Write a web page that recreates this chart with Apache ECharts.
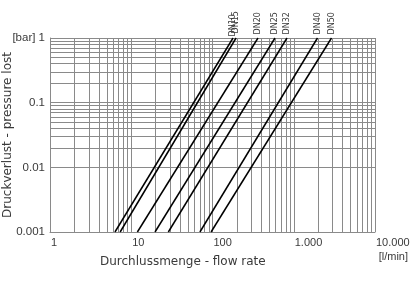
<!DOCTYPE html>
<html>
<head>
<meta charset="utf-8">
<script src="https://cdn.jsdelivr.net/npm/echarts@6/dist/echarts.min.js"></script>
<style>html,body{margin:0;padding:0;background:#fff}#c{width:410px;height:284px}</style>
</head>
<body>
<div id="c"></div>
<script>
const seriesNames = ['DN10', 'DN15', 'DN20', 'DN25', 'DN32', 'DN40', 'DN50'];
const flowAtMinLoss = [6.3, 7.3, 11.9, 19.6, 28.6, 70, 96];      // l/min at 0.001 bar
const flowAtMaxLoss = [179, 195, 363, 588, 826, 1960, 2915];     // l/min at 1 bar
const lossRange = [0.001, 1];
const xTickLabels = ['1', '10', '100', '1.000', '10.000'];
const yTickLabels = ['0.001', '0.01', '0.1', '[bar] 1'];
const xDecades = [1, 10, 100, 1000];
const yDecades = [0.001, 0.01, 0.1];
const minorSteps = [2, 3, 4, 5, 6, 7, 8, 9];
const xTitle = 'Durchlussmenge - flow rate';
const yTitle = 'Druckverlust - pressure lost';
const xUnit = '[l/min]';

const FONT = 'DejaVu Sans';
const TICKFONT = 'Liberation Sans';
const TXT = '#3a3a3a';
const GRID = '#8a8a8a';
// small horizontal nudge so the two crowded labels stay legible (style only)
const labelNudge = { DN10: -2, DN15: 1 };

// minor log grid lines (2..9 within each decade)
const gridLines = [];
xDecades.forEach(d => minorSteps.forEach(s => gridLines.push({ xAxis: d * s })));
yDecades.forEach(d => minorSteps.forEach(s => gridLines.push({ yAxis: d * s })));

const series = [{
  name: 'grid', type: 'line', data: [], silent: true, z: 0, zlevel: 0,
  markLine: {
    silent: true, symbol: ['none', 'none'], animation: false,
    label: { show: false },
    lineStyle: { color: GRID, width: 1, type: 'solid' },
    emphasis: { disabled: true },
    data: gridLines
  }
}].concat(seriesNames.map((name, i) => ({
  name: name,
  type: 'line',
  symbol: 'circle', symbolSize: 1, showSymbol: true,
  itemStyle: { color: 'rgba(0,0,0,0)' },
  silent: true, z: 10, zlevel: 1,
  lineStyle: { color: '#000', width: 1.5 },
  label: { show: false },
  data: [
    [flowAtMinLoss[i], lossRange[0]],
    { value: [flowAtMaxLoss[i], lossRange[1]],
      label: { show: true, formatter: name, position: 'top', rotate: 90, distance: 3,
               align: 'left', verticalAlign: 'middle',
               offset: [labelNudge[name] || 0, 0],
               fontFamily: FONT, fontSize: 8, color: TXT } }
  ]
})));

const chart = echarts.init(document.getElementById('c'), null, { renderer: 'canvas' });
chart.setOption({
  animation: false,
  grid: { left: 50, right: 35, top: 38, bottom: 52, containLabel: false, outerBoundsMode: 'none' },
  xAxis: {
    type: 'log', logBase: 10, min: 1, max: 10000,
    axisLine: { show: true, lineStyle: { color: GRID, width: 1 } },
    axisTick: { show: false },
    axisLabel: { fontFamily: TICKFONT, fontSize: 11, color: TXT, margin: 5, align: 'left',
      padding: [0, 0, 0, 1], showMaxLabel: true, showMinLabel: true,
      formatter: v => xTickLabels[Math.round(Math.log10(v))] },
    splitLine: { show: true, lineStyle: { color: GRID, width: 1 } }
  },
  yAxis: {
    type: 'log', logBase: 10, min: 0.001, max: 1,
    axisLine: { show: true, lineStyle: { color: GRID, width: 1 } },
    axisTick: { show: false },
    axisLabel: { fontFamily: TICKFONT, fontSize: 11.5, color: TXT, margin: 5,
      padding: [0, 0, 5, 0], showMaxLabel: true, showMinLabel: true,
      formatter: v => yTickLabels[Math.round(Math.log10(v)) + 3] },
    splitLine: { show: true, lineStyle: { color: GRID, width: 1 } }
  },
  graphic: [
    { type: 'text', left: 100, top: 256, style: { text: xTitle, font: '12px ' + FONT, fill: TXT } },
    { type: 'text', right: 2, top: 251, style: { text: xUnit, font: '11px ' + TICKFONT, fill: TXT } },
    { type: 'text', x: 8, y: 135, rotation: Math.PI / 2,
      style: { text: yTitle, font: '12px ' + FONT, fill: TXT, align: 'center', verticalAlign: 'middle' } }
  ],
  series: series
});
</script>
</body>
</html>
